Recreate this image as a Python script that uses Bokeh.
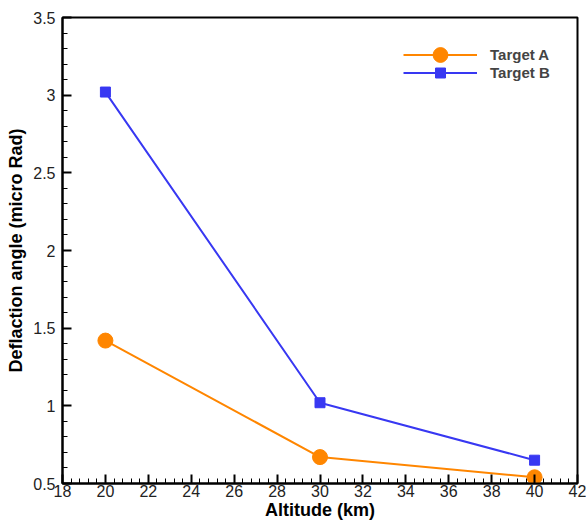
from bokeh.plotting import figure
from bokeh.models import Legend, LegendItem, FixedTicker, Range1d
from bokeh.embed import file_html
from bokeh.resources import INLINE

altitude = [20, 30, 40]
target_a = [1.42, 0.67, 0.54]
target_b = [3.02, 1.02, 0.65]
x_ticks = [18, 20, 22, 24, 26, 28, 30, 32, 34, 36, 38, 40, 42]
y_ticks = [0.5, 1, 1.5, 2, 2.5, 3, 3.5]

ORANGE = "#FF8600"
BLUE = "#3838F2"

p = figure(width=586, height=524, output_backend="svg", toolbar_location=None,
           x_range=Range1d(18, 42), y_range=Range1d(0.5, 3.5),
           min_border_left=62, min_border_right=9, min_border_top=17, min_border_bottom=41)
p.background_fill_color = "white"
p.border_fill_color = "white"
p.outline_line_color = "black"
p.outline_line_width = 2
p.grid.visible = False

la = p.line(altitude, target_a, line_color=ORANGE, line_width=2)
sa = p.scatter(altitude, target_a, marker="circle", size=15, fill_color=ORANGE, line_color=ORANGE)
lb = p.line(altitude, target_b, line_color=BLUE, line_width=2)
sb = p.scatter(altitude, target_b, marker="square", size=10, fill_color=BLUE, line_color=BLUE)

for ax in (p.xaxis[0], p.yaxis[0]):
    ax.axis_line_width = 2
    ax.axis_line_color = "black"
    ax.major_tick_line_width = 2
    ax.major_tick_in = 9
    ax.major_tick_out = 0
    ax.minor_tick_in = 5
    ax.minor_tick_out = 0
    ax.minor_tick_line_width = 1
    ax.major_label_text_font = "Liberation Sans"
    ax.major_label_text_font_size = "16px"
    ax.major_label_text_color = "#222222"
    ax.axis_label_text_font = "Liberation Sans"
    ax.axis_label_text_font_size = "18px"
    ax.axis_label_text_font_style = "bold"
    ax.axis_label_text_color = "black"

p.xaxis.ticker = FixedTicker(ticks=x_ticks, minor_ticks=[18 + 0.4 * i for i in range(61)])
p.yaxis.ticker = FixedTicker(ticks=y_ticks, minor_ticks=[0.5 + 0.1 * i for i in range(31)])
p.xaxis.axis_label = "Altitude (km)"
p.yaxis.axis_label = "Deflaction angle (micro Rad)"
p.xaxis.major_label_standoff = 1
p.xaxis.axis_label_standoff = 0
p.yaxis.major_label_standoff = 7
p.yaxis.axis_label_standoff = 4

common = dict(border_line_color=None, background_fill_alpha=0, glyph_width=74,
              label_text_font="Liberation Sans", label_text_font_size="15px",
              label_text_font_style="bold", padding=0, margin=0, spacing=0,
              label_standoff=13)
legend_a = Legend(items=[LegendItem(label="Target A", renderers=[la, sa])],
                  location=(341, 410), glyph_height=37, **common)
legend_b = Legend(items=[LegendItem(label="Target B", renderers=[lb, sb])],
                  location=(341, 398), glyph_height=25, **common)
p.add_layout(legend_a)
p.add_layout(legend_b)

open("out.html", "w").write(file_html(p, INLINE))
